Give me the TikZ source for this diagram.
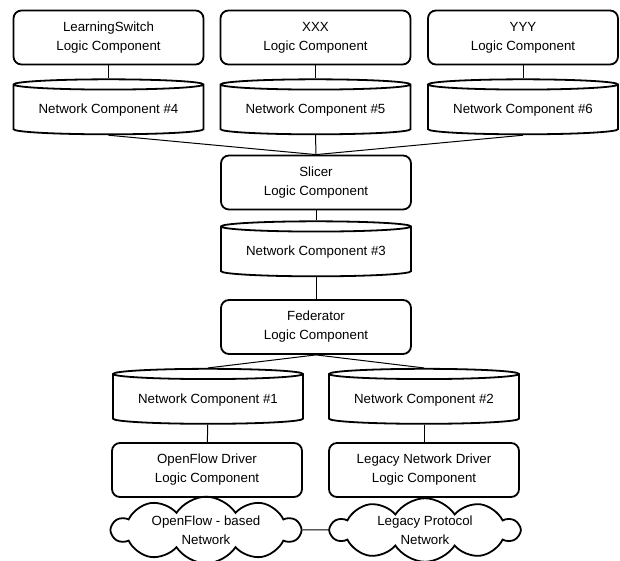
\documentclass[tikz,border=0pt]{standalone}
\usepackage{fontspec}
\setmainfont{Liberation Sans}
\usetikzlibrary{shapes.geometric,shapes.symbols}

\tikzset{
  logicbox/.style={draw, line width=1.8pt, rounded corners=8pt, align=center,
    minimum width=190pt, minimum height=54pt},
  netcomp/.style={draw, line width=1.8pt, cylinder, shape border rotate=90,
    aspect=0.07, minimum width=190pt, minimum height=55pt},
  netcloud/.style={draw, line width=1.8pt, cloud, cloud puffs=10, cloud puff arc=115,
    aspect=3.6, align=center, minimum width=188pt, minimum height=54pt, inner sep=0pt},
  link/.style={line width=1pt}
}

\begin{document}
\begin{tikzpicture}[x=1pt, y=-1pt, font=\fontsize{13.3}{19}\selectfont]
\useasboundingbox (0,0) rectangle (620,560);

% applications on top
\node[logicbox] (ls)  at (108.5,37.5) {LearningSwitch\\Logic Component};
\node[logicbox] (xxx) at (315.5,37.5) {XXX\\Logic Component};
\node[logicbox] (yyy) at (523,37.5)   {YYY\\Logic Component};
\node[netcomp] (nc4) at (108.5,110.5) {Network Component \#4};
\node[netcomp] (nc5) at (315.5,110.5) {Network Component \#5};
\node[netcomp] (nc6) at (523,110.5)   {Network Component \#6};

% slicer and federator
\node[logicbox] (slicer) at (316,182.5) {Slicer\\Logic Component};
\node[netcomp] (nc3) at (316,252.5) {Network Component \#3};
\node[logicbox] (fed) at (316,327) {Federator\\Logic Component};

% drivers
\node[netcomp] (nc1) at (208,400) {Network Component \#1};
\node[netcomp] (nc2) at (424,400) {Network Component \#2};
\node[logicbox] (ofd) at (207,470) {OpenFlow Driver\\Logic Component};
\node[logicbox] (lgd) at (424,470) {Legacy Network Driver\\Logic Component};

% networks
\node[netcloud] (ofnet) at (206,530) {OpenFlow - based\\Network};
\node[netcloud] (lgnet) at (425,530) {Legacy Protocol\\Network};

\draw[link] (ls) -- (nc4);
\draw[link] (xxx) -- (nc5);
\draw[link] (yyy) -- (nc6);
\draw[link] (nc4.south) -- (slicer.north);
\draw[link] (nc5.south) -- (slicer.north);
\draw[link] (nc6.south) -- (slicer.north);
\draw[link] (slicer) -- (nc3);
\draw[link] (nc3) -- (fed);
\draw[link] (fed.south) -- (nc1.north);
\draw[link] (fed.south) -- (nc2.north);
\draw[link] (nc1) -- (ofd);
\draw[link] (nc2) -- (lgd);
\draw[link] (ofd) -- (ofnet);
\draw[link] (lgd) -- (lgnet);
\draw[link] (ofnet) -- (lgnet);
\end{tikzpicture}
\end{document}
